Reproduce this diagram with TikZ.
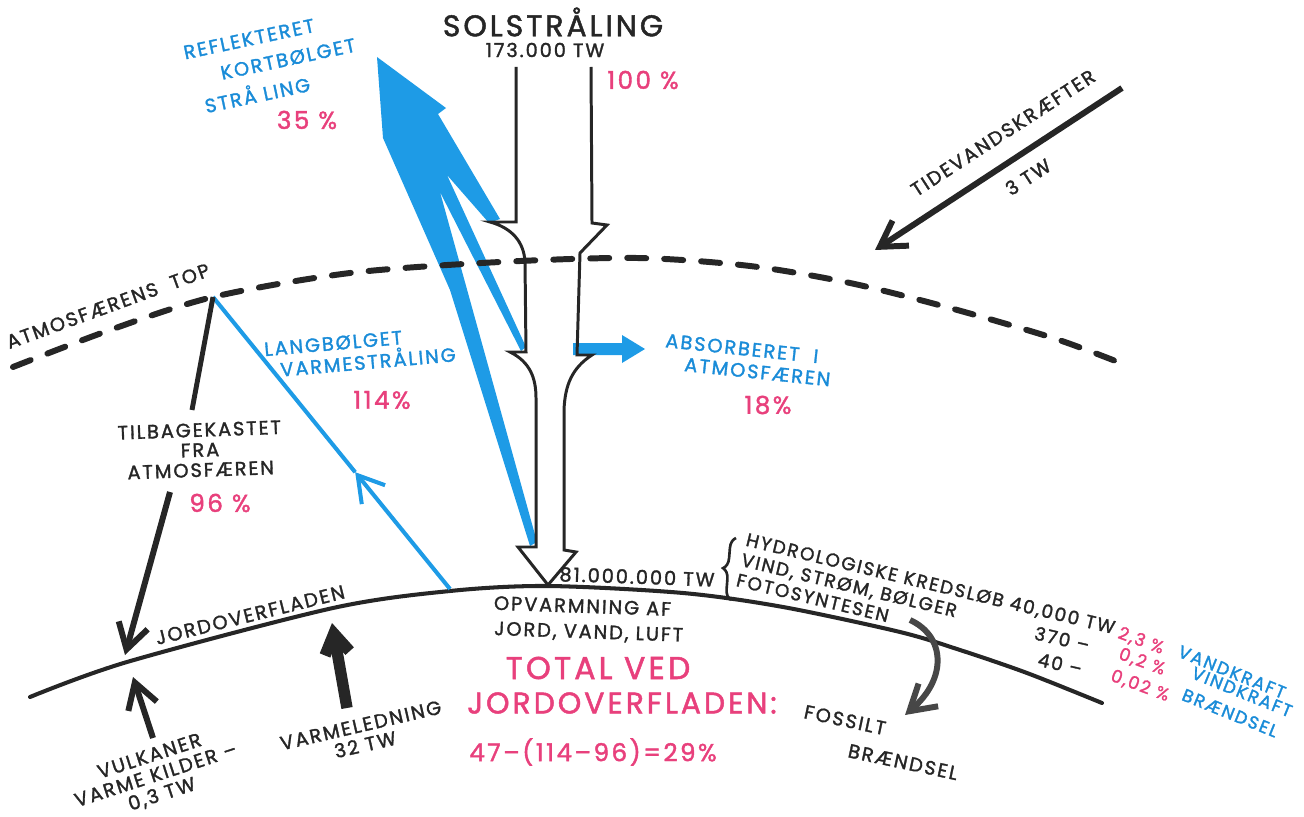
\documentclass[tikz,border=0pt]{standalone}
\usepackage{fontspec}
\setmainfont{Poppins}[LetterSpace=10, FakeBold=1.6]
\usetikzlibrary{arrows.meta, decorations.pathreplacing, calc}

\definecolor{ink}{HTML}{262626}
\definecolor{sky}{HTML}{1E9BE6}
\definecolor{skytext}{HTML}{1A8CD8}
\definecolor{rose}{HTML}{E8407C}

\tikzset{
  lbl/.style={text=ink, inner sep=0pt, font=\fontsize{11}{11.4}\selectfont, align=center},
  blbl/.style={lbl, text=skytext},
  pct/.style={text=rose, inner sep=0pt, font=\fontsize{14}{16}\selectfont},
  small pct/.style={text=rose, inner sep=0pt, font=\fontsize{10}{11}\selectfont},
  dflow/.style={draw=ink, line width=1.7pt, line join=miter},
  heavy/.style={draw=ink, line width=3.4pt, -{Straight Barb[length=5mm, width=6mm]}},
}

\begin{document}
\begin{tikzpicture}[x=0.02cm, y=-0.02cm]
\useasboundingbox (0,0) rectangle (1304,817);

% fixed points
\coordinate (atmtop) at (213,297);
\coordinate (foot) at (450,589);
\coordinate (lwmid) at ($(foot)!0.40!(atmtop)$);
\coordinate (suntip) at (548,585);
\coordinate (backend) at (192,410);
\coordinate (backstart) at (170,492);
\coordinate (backtip) at (125,655);
\coordinate (tidestart) at (1122,88);
\coordinate (tidetip) at (875,250);
\coordinate (volstart) at (153,738);
\coordinate (voltip) at (133,677);
\coordinate (condstart) at (347,708);
\coordinate (condtip) at (332,623);
\coordinate (fosstart) at (910,620);
\coordinate (fostip) at (905,715);

% reflekteret kortbolget straaling
\fill[sky] (377,57) -- (446,108) -- (438,114) -- (500,219) -- (489,223) -- (447,175)
  -- (526,347) -- (521,351) -- (440,192) -- (537,542) -- (530,546) -- (450,290)
  -- (383,138) -- cycle;

% absorberet i atmosfaeren
\fill[sky] (573,343) -- (622,343) -- (622,335) -- (645,349) -- (622,363) -- (622,355)
  -- (573,355) -- cycle;

% solstraaling
\draw[dflow] (516,67) -- (516,222) -- (490,222) .. controls (512,228) and (524,242) .. (525,262)
  -- (526,352) -- (510,352) .. controls (530,362) and (536,378) .. (536,398)
  -- (536,547) -- (518,547) -- (suntip);
\draw[dflow] (591,67) -- (592,223) -- (607,225) -- (580,253) -- (577,355) -- (592,355)
  .. controls (572,368) and (565,385) .. (564,410) -- (564,550) -- (576,552) -- (suntip);

% atmosfaerens top
\draw[ink, line width=3.4pt, line cap=round, dash pattern=on 0.38cm off 0.36cm]
  plot[smooth] coordinates {(13,367) (110,330) (atmtop) (350,273) (500,262) (637,258)
  (750,266) (850,283) (950,308) (1053,338) (1118,362)};

% jordoverfladen
\draw[ink, line width=2.3pt, line cap=round]
  plot[smooth] coordinates {(30,697) (127,662) (333,608) (450,591) (548,586) (683,593)
  (783,607) (900,632) (960,650) (1027,673) (1102,703)};

% langbolget varmestraaling
\draw[sky, line width=2.3pt, -{Straight Barb[length=5mm, width=6mm]}] (foot) -- (lwmid);
\draw[sky, line width=2.3pt] (lwmid) -- (atmtop);

% tilbagekastet
\draw[ink, line width=2.8pt] (atmtop) -- (backend);
\draw[heavy] (backstart) -- (backtip);

% tidevand, vulkaner, varmeledning, fossilt
\draw[heavy] (tidestart) -- (tidetip);
\draw[heavy] (volstart) -- (voltip);
\draw[heavy, line width=6.5pt, -{Straight Barb[length=4mm, width=5mm]}] (condstart) -- (condtip);
\draw[heavy, draw=ink!85] (fosstart) .. controls (945,636) and (948,678) .. (fostip);

% klammer
\draw[ink, line width=1.5pt, decorate, decoration={brace, amplitude=6pt}] (731,600) -- (736,538);

% tekster
\node[lbl, font=\fontsize{17}{18}\selectfont] (sol) at (553,22) {SOLSTRÅLING};
\node[lbl] (solTW) at (545,50) {173.000 TW};
\node[pct] (p100) at (643,80) {100 \%};

\node[blbl, rotate=12] (refl1) at (249,39) {REFLEKTERET};
\node[blbl, rotate=12] (refl2) at (288,59) {KORTBØLGET};
\node[blbl, rotate=12] (refl3) at (257,93) {STRÅ LING};
\node[pct] (p35) at (307,120) {35 \%};

\node[lbl, rotate=33] (tide) at (1003,133) {TIDEVANDSKRÆFTER};
\node[lbl, rotate=33] (tideTW) at (1028,177) {3 TW};

\node[lbl, rotate=20] (atm) at (108,306) {ATMOSFÆRENS\ \ TOP};

\node[blbl, rotate=5, align=left] (lw) at (360,352) {LANGBØLGET\\[1pt]\ \ VARMESTRÅLING};
\node[pct] (p114) at (382,400) {114\%};

\node[blbl, rotate=-6, align=left] (abs) at (748,360) {ABSORBERET\ \ I\\[1pt]\ \ \ ATMOSFÆREN};
\node[pct] (p18) at (768,405) {18\%};

\node[lbl, rotate=2] (back) at (200,450) {TILBAGEKASTET\\FRA\\ATMOSFÆREN};
\node[pct] (p96) at (220,503) {96 \%};

\node[lbl, rotate=14] (jord) at (250,615) {JORDOVERFLADEN};

\node[lbl, rotate=18] (vulk) at (156,776) {VULKANER\\VARME KILDER –\\0,3 TW};
\node[lbl, rotate=13] (varme) at (363,735) {VARMELEDNING\\32 TW};

\node[lbl, rotate=-2] (sunTW) at (637,577) {81.000.000 TW};
\node[lbl, rotate=-2] (opv) at (582,620) {OPVARMNING AF\\[3pt]\ \ JORD, VAND, LUFT};

\node[pct, font=\fontsize{18}{20}\selectfont] (tot1) at (598,668) {TOTAL VED};
\node[pct, font=\fontsize{17}{20}\selectfont] (tot2) at (622,703) {JORDOVERFLADEN:};
\node[pct] (tot3) at (593,752) {47–(114–96)=29\%};

\node[lbl, font=\fontsize{10.5}{11.8}\selectfont, rotate=-13.5, align=left, anchor=north west] (hyd) at (748,532)
  {HYDROLOGISKE KREDSLØB 40,000 TW\\VIND, STRØM, BØLGER\\FOTOSYNTESEN};
\node[lbl, font=\fontsize{10.5}{11.4}\selectfont, rotate=-13] (n370) at (1062,639) {370 –};
\node[lbl, font=\fontsize{10.5}{11.4}\selectfont, rotate=-13] (n40) at (1060,664) {40 –};

\node[small pct, rotate=-20] (q1) at (1141,641) {2,3 \%};
\node[small pct, rotate=-20] (q2) at (1142,662) {0,2 \%};
\node[small pct, rotate=-20] (q3) at (1140,686) {0,02 \%};
\node[blbl, font=\fontsize{10}{11}\selectfont, rotate=-22] (vk) at (1232,672) {VANDKRAFT};
\node[blbl, font=\fontsize{10}{11}\selectfont, rotate=-22] (wk) at (1242,692) {VINDKRAFT};
\node[blbl, font=\fontsize{10}{11}\selectfont, rotate=-22] (bs) at (1230,713) {BRÆNDSEL};

\node[lbl, rotate=-12] (fos1) at (845,720) {FOSSILT};
\node[lbl, rotate=-12] (fos2) at (903,762) {BRÆNDSEL};
\end{tikzpicture}
\end{document}
